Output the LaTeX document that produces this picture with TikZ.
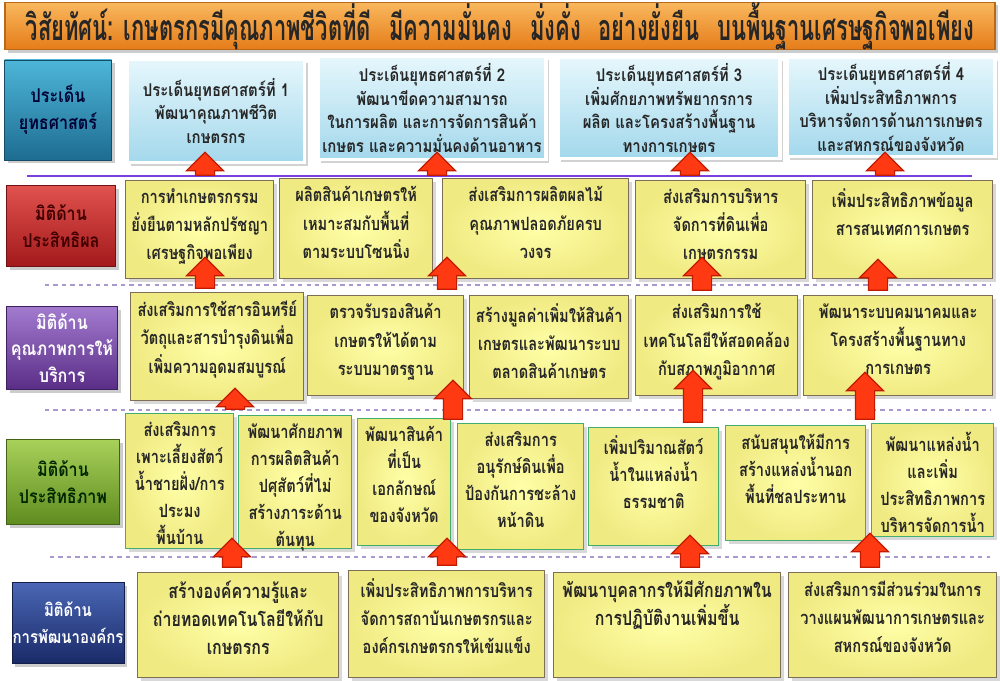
\documentclass[tikz,border=0pt]{standalone}
\usepackage{fontspec}
\newfontfamily\thaifont[Script=Thai,FakeStretch=0.85]{Loma}
\newfontfamily\thaibox[Script=Thai,FakeStretch=0.8]{Loma}
\newfontfamily\thaihead[Script=Thai,FakeStretch=0.612]{Loma}
\usetikzlibrary{shapes.arrows}
\usetikzlibrary{shadows}

\definecolor{headtop}{HTML}{F9B85E}
\definecolor{headbot}{HTML}{E57C18}
\definecolor{headline}{HTML}{B86A1A}
\definecolor{strattop}{HTML}{E6F7FC}
\definecolor{stratbot}{HTML}{A3D8EC}
\definecolor{tealtop}{HTML}{4DB6D8}
\definecolor{tealbot}{HTML}{1E6C92}
\definecolor{redtop}{HTML}{E0524E}
\definecolor{redbot}{HTML}{A3191B}
\definecolor{purptop}{HTML}{A27BCF}
\definecolor{purpbot}{HTML}{5A2D86}
\definecolor{greentop}{HTML}{A8D15A}
\definecolor{greenbot}{HTML}{5F8C1F}
\definecolor{bluetop}{HTML}{4A66B4}
\definecolor{bluebot}{HTML}{1A2A68}
\definecolor{boxin}{HTML}{FFFFA8}
\definecolor{boxout}{HTML}{F0EA82}
\definecolor{boxline}{HTML}{7D6E55}
\definecolor{boxgreen}{HTML}{3FAE6E}
\definecolor{arrowfill}{HTML}{FF3A12}
\definecolor{arrowline}{HTML}{C21A00}
\definecolor{lineviolet}{HTML}{7B3FE0}
\definecolor{sepcolor}{HTML}{A898CC}

\newcommand{\boxfont}{\thaibox\bfseries\fontsize{13}{20}\selectfont}
\newcommand{\bigboxfont}{\thaibox\bfseries\fontsize{14.2}{20}\selectfont}

\newlength{\pxl}
\setlength{\pxl}{0.025cm}

% box given by its corners, text set from the top
\newcommand{\ybox}[7]{%
  \node[#1, anchor=north west, minimum width={(#5-#3)*\pxl}, minimum height={(#6-#4)*\pxl}] (#2) at (#3,#4) {};
  \node[#1 text, anchor=north] (#2t) at ([yshift=-6pt]#2.north) {#7};}

% block arrow pointing up: name, x, tip, base
\newcommand{\uparr}[4]{%
  \node[uparrow, minimum height={(#4-#3)*\pxl}] (#1) at (#2,{(#3+#4)/2}) {};}

\begin{document}
\begin{tikzpicture}[x=0.025cm, y=-0.025cm,
  headbox/.style={draw=headline, line width=0.8pt, top color=headtop, bottom color=headbot,
    drop shadow={opacity=0.4}, inner sep=0pt, text=black!85,
    font=\thaihead\bfseries\fontsize{25.5}{28}\selectfont},
  stratbox/.style={draw=white, line width=2.5pt, top color=strattop, bottom color=stratbot,
    drop shadow={opacity=0.35}, align=center, inner sep=0pt, text=black!85,
    font=\thaifont\bfseries\fontsize{12.5}{17}\selectfont},
  dimbox/.style={draw=#1bot!70!black, line width=0.6pt, top color=#1top, bottom color=#1bot,
    drop shadow={opacity=0.4}, align=center, inner sep=0pt,
    font=\thaifont\bfseries\fontsize{13.5}{19}\selectfont},
  yellowbox/.style={draw=boxline, line width=1pt, inner color=boxin, outer color=boxout,
    drop shadow={opacity=0.3, shadow xshift=2pt, shadow yshift=-2pt}, inner sep=0pt},
  greenbox/.style={yellowbox, draw=boxgreen},
  boxtext/.style={font=\boxfont, align=center, inner sep=0pt, text=black!85},
  yellowbox text/.style={boxtext},
  greenbox text/.style={boxtext, font=\thaibox\bfseries\fontsize{13}{19.2}\selectfont},
  uparrow/.style={single arrow, rotate=90, draw=arrowline, line width=0.8pt, fill=arrowfill,
    inner xsep=0pt, inner ysep=9*\pxl, single arrow head extend=9*\pxl},
  purpleline/.style={draw=lineviolet, line width=2pt},
  rowsep/.style={draw=sepcolor, dashed, line width=0.8pt}]
\useasboundingbox (0,0) rectangle (1000,681);
\fill[white] (0,0) rectangle (1000,681);

% vision
\node[headbox, minimum width=990*\pxl, minimum height=47*\pxl] (vision) at (500,26)
  {วิสัยทัศน์: เกษตรกรมีคุณภาพชีวิตที่ดี\enspace มีความมั่นคง\enspace มั่งคั่ง\enspace อย่างยั่งยืน\enspace บนพื้นฐานเศรษฐกิจพอเพียง};

% strategic issues
\node[dimbox=teal, text=black!80!blue, minimum width=107*\pxl, minimum height=100*\pxl] (lab0) at (58,110)
  {ประเด็น\\ยุทธศาสตร์};
\node[stratbox, minimum width=177*\pxl, minimum height=103*\pxl] (s1) at (216,111)
  {ประเด็นยุทธศาสตร์ที่ 1\\พัฒนาคุณภาพชีวิต\\เกษตรกร};
\node[stratbox, minimum width=228*\pxl, minimum height=103*\pxl] (s2) at (432,108)
  {ประเด็นยุทธศาสตร์ที่ 2\\พัฒนาขีดความสามารถ\\ในการผลิต และการจัดการสินค้า\\เกษตร และความมั่นคงด้านอาหาร};
\node[stratbox, minimum width=222*\pxl, minimum height=101*\pxl] (s3) at (669,108)
  {ประเด็นยุทธศาสตร์ที่ 3\\เพิ่มศักยภาพทรัพยากรการ\\ผลิต และโครงสร้างพื้นฐาน\\ทางการเกษตร};
\node[stratbox, minimum width=208*\pxl, minimum height=99*\pxl] (s4) at (891,107)
  {ประเด็นยุทธศาสตร์ที่ 4\\เพิ่มประสิทธิภาพการ\\บริหารจัดการด้านการเกษตร\\และสหกรณ์ของจังหวัด};

% separators
\draw[purpleline] (27,176) -- (972,176);
\draw[rowsep] (45,285) -- (990,285);
\draw[rowsep] (45,410) -- (990,410);
\draw[rowsep] (50,557) -- (990,557);

% effectiveness
\node[dimbox=red, text=black!75!red, minimum width=109*\pxl, minimum height=81*\pxl] (lab1) at (61,226)
  {มิติด้าน\\ประสิทธิผล};
\ybox{yellowbox}{a1}{125}{180}{273}{278}{การทำเกษตรกรรม\\ยั่งยืนตามหลักปรัชญา\\เศรษฐกิจพอเพียง}
\ybox{yellowbox}{a2}{279}{178}{432}{278}{ผลิตสินค้าเกษตรให้\\เหมาะสมกับพื้นที่\\ตามระบบโซนนิ่ง}
\ybox{yellowbox}{a3}{442}{178}{628}{278}{ส่งเสริมการผลิตผลไม้\\คุณภาพปลอดภัยครบ\\วงจร}
\ybox{yellowbox}{a4}{635}{180}{805}{278}{ส่งเสริมการบริหาร\\จัดการที่ดินเพื่อ\\เกษตรกรรม}
\ybox{yellowbox}{a5}{812}{180}{992}{278}{เพิ่มประสิทธิภาพข้อมูล\\สารสนเทศการเกษตร}

% service quality
\node[dimbox=purp, text=white, minimum width=111*\pxl, minimum height=83*\pxl] (lab2) at (62,348)
  {มิติด้าน\\คุณภาพการให้\\บริการ};
\ybox{yellowbox}{b1}{130}{292}{303}{400}{ส่งเสริมการใช้สารอินทรีย์\\วัตถุและสารบำรุงดินเพื่อ\\เพิ่มความอุดมสมบูรณ์}
\ybox{yellowbox}{b2}{307}{295}{463}{395}{ตรวจรับรองสินค้า\\เกษตรให้ได้ตาม\\ระบบมาตรฐาน}
\ybox{yellowbox}{b3}{469}{295}{628}{398}{สร้างมูลค่าเพิ่มให้สินค้า\\เกษตรและพัฒนาระบบ\\ตลาดสินค้าเกษตร}
\ybox{yellowbox}{b4}{635}{295}{797}{395}{ส่งเสริมการใช้\\เทคโนโลยีให้สอดคล้อง\\กับสภาพภูมิอากาศ}
\ybox{yellowbox}{b5}{803}{295}{992}{395}{พัฒนาระบบคมนาคมและ\\โครงสร้างพื้นฐานทาง\\การเกษตร}

% efficiency
\node[dimbox=green, text=black!85!green, minimum width=113*\pxl, minimum height=85*\pxl] (lab3) at (63,482)
  {มิติด้าน\\ประสิทธิภาพ};
\ybox{greenbox}{c1}{125}{413}{233}{548}{ส่งเสริมการ\\เพาะเลี้ยงสัตว์\\น้ำชายฝั่ง/การ\\ประมง\\พื้นบ้าน}
\ybox{greenbox}{c2}{238}{415}{351}{548}{พัฒนาศักยภาพ\\การผลิตสินค้า\\ปศุสัตว์ที่ไม่\\สร้างภาระด้าน\\ต้นทุน}
\ybox{greenbox}{c3}{357}{418}{450}{545}{พัฒนาสินค้า\\ที่เป็น\\เอกลักษณ์\\ของจังหวัด}
\ybox{greenbox}{c4}{457}{423}{583}{549}{ส่งเสริมการ\\อนุรักษ์ดินเพื่อ\\ป้องกันการชะล้าง\\หน้าดิน}
\ybox{greenbox}{c5}{588}{427}{718}{545}{เพิ่มปริมาณสัตว์\\น้ำในแหล่งน้ำ\\ธรรมชาติ}
\ybox{greenbox}{c6}{725}{425}{865}{540}{สนับสนุนให้มีการ\\สร้างแหล่งน้ำนอก\\พื้นที่ชลประทาน}
\ybox{greenbox}{c7}{871}{423}{993}{536}{พัฒนาแหล่งน้ำ\\และเพิ่ม\\ประสิทธิภาพการ\\บริหารจัดการน้ำ}

% organisation
\node[dimbox=blue, text=white, font=\thaifont\bfseries\fontsize{12.5}{19}\selectfont,
  minimum width=112*\pxl, minimum height=81*\pxl] (lab4) at (68,623)
  {มิติด้าน\\การพัฒนาองค์กร};
\ybox{yellowbox}{d1}{137}{572}{338}{677}{\bigboxfont สร้างองค์ความรู้และ\\\bigboxfont ถ่ายทอดเทคโนโลยีให้กับ\\\bigboxfont เกษตรกร}
\ybox{yellowbox}{d2}{348}{570}{544}{677}{เพิ่มประสิทธิภาพการบริหาร\\จัดการสถาบันเกษตรกรและ\\องค์กรเกษตรกรให้เข้มแข็ง}
\ybox{yellowbox}{d3}{553}{572}{780}{677}{\bigboxfont พัฒนาบุคลากรให้มีศักยภาพใน\\\bigboxfont การปฏิบัติงานเพิ่มขึ้น}
\ybox{yellowbox}{d4}{788}{572}{996}{677}{ส่งเสริมการมีส่วนร่วมในการ\\วางแผนพัฒนาการเกษตรและ\\สหกรณ์ของจังหวัด}

% arrows between the rows
\uparr{u01}{205}{157}{180}
\uparr{u02}{437}{157}{180}
\uparr{u03}{690}{157}{180}
\uparr{u04}{885}{157}{180}
\uparr{u11}{205}{262}{293}
\uparr{u12}{447}{262}{294}
\uparr{u13}{702}{262}{295}
\uparr{u14}{878}{264}{295}
\uparr{u21}{235}{393}{414}
\uparr{u22}{453}{385}{424}
\uparr{u23}{693}{375}{427}
\uparr{u24}{865}{377}{424}
\uparr{u31}{232}{543}{572}
\uparr{u32}{447}{543}{570}
\uparr{u33}{690}{540}{572}
\uparr{u34}{870}{538}{572}
\end{tikzpicture}
\end{document}
